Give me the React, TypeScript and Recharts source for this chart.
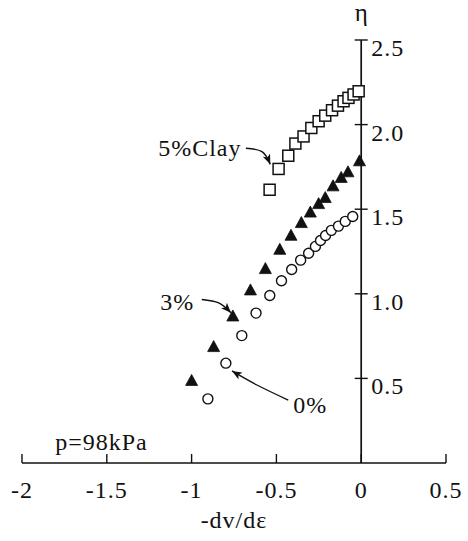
import React from 'react';
import { ScatterChart, Scatter, XAxis, YAxis, ReferenceLine, ReferenceDot } from 'recharts';

// Axis ticks
const xTicks = [-2, -1.5, -1, -0.5, 0, 0.5];
const yTicks = [0.5, 1.0, 1.5, 2.0, 2.5];
const yTickLabels = ['0.5', '1.0', '1.5', '2.0', '2.5'];

// 0% clay (open circles)
const clay0X = [-0.904, -0.798, -0.704, -0.62, -0.539, -0.47, -0.41, -0.357, -0.31, -0.27, -0.24, -0.21, -0.176, -0.134, -0.094, -0.05];
const clay0Y = [0.379, 0.59, 0.753, 0.886, 0.99, 1.077, 1.144, 1.199, 1.24, 1.28, 1.315, 1.345, 1.375, 1.4, 1.428, 1.457];

// 3% clay (filled triangles)
const clay3X = [-1.0, -0.87, -0.757, -0.653, -0.565, -0.48, -0.414, -0.353, -0.3, -0.251, -0.212, -0.166, -0.118, -0.078, -0.01];
const clay3Y = [0.485, 0.685, 0.866, 1.02, 1.146, 1.26, 1.343, 1.418, 1.48, 1.53, 1.566, 1.635, 1.685, 1.718, 1.783];

// 5% clay (open squares)
const clay5X = [-0.54, -0.487, -0.43, -0.388, -0.34, -0.294, -0.251, -0.212, -0.172, -0.137, -0.104, -0.075, -0.045, -0.015];
const clay5Y = [1.615, 1.738, 1.816, 1.888, 1.93, 1.98, 2.02, 2.053, 2.085, 2.112, 2.138, 2.158, 2.178, 2.197];

// Annotations
const annotationLabels = ['5%Clay', '3%', '0%', 'p=98kPa'];
const annotationX = [-1.197, -1.185, -0.401, -1.804];
const annotationY = [1.814, 0.904, 0.296, 0.077];

const arrow5X = [-0.68, -0.585, -0.536];
const arrow5Y = [1.86, 1.84, 1.765];
const arrow3X = [-0.94, -0.84, -0.768];
const arrow3Y = [0.966, 0.946, 0.888];
const arrow0X = [-0.43, -0.615, -0.762];
const arrow0Y = [0.372, 0.461, 0.544];

const zip = (xs: number[], ys: number[]) => xs.map((x, i) => ({ x, y: ys[i] }));

const data0 = zip(clay0X, clay0Y);
const data3 = zip(clay3X, clay3Y);
const data5 = zip(clay5X, clay5Y);
const arrows = [zip(arrow5X, arrow5Y), zip(arrow3X, arrow3Y), zip(arrow0X, arrow0Y)];

const FONT = '"Liberation Serif", "Times New Roman", serif';
const INK = '#111';

const CircleShape = (p: any) => (
  <circle cx={p.cx} cy={p.cy} r={5} fill="#fff" stroke={INK} strokeWidth={1.4} />
);
const TriangleShape = (p: any) => (
  <polygon
    points={`${p.cx},${p.cy - 6.5} ${p.cx - 6},${p.cy + 4.5} ${p.cx + 6},${p.cy + 4.5}`}
    fill={INK}
    stroke={INK}
    strokeWidth={0.8}
  />
);
const SquareShape = (p: any) => (
  <rect x={p.cx - 5.5} y={p.cy - 5.5} width={11} height={11} fill="#fff" stroke={INK} strokeWidth={1.5} />
);
const NoShape = () => <g />;

const XTick = (p: any) => {
  const { x, y, payload } = p;
  return (
    <g>
      <line x1={x} x2={x} y1={y} y2={y - 9} stroke={INK} strokeWidth={1.4} />
      <text x={x} y={y + 35} textAnchor="middle" fontFamily={FONT} fontSize={24} letterSpacing={1} fill={INK}>
        {String(payload.value)}
      </text>
    </g>
  );
};

export default function App() {
  return (
    <div style={{ position: 'absolute', left: 0, top: 0, width: 468, height: 541, background: '#fff' }}>
      <svg width={0} height={0} style={{ position: 'absolute' }}>
        <defs>
          <marker id="arrowHead" viewBox="0 0 10 8" refX="10" refY="4" markerWidth="10" markerHeight="8" markerUnits="userSpaceOnUse" orient="auto">
            <path d="M0,0 L10,4 L0,8 L2.5,4 Z" fill={INK} />
          </marker>
        </defs>
      </svg>
      <ScatterChart width={468} height={541} margin={{ top: 40, right: 22, bottom: 0, left: 22 }}>
        <XAxis
          type="number"
          dataKey="x"
          domain={[-2, 0.5]}
          ticks={xTicks}
          allowDataOverflow
          height={78}
          tickSize={0}
          tickMargin={0}
          tickLine={false}
          axisLine={{ stroke: INK, strokeWidth: 1.7 }}
          tick={<XTick />}
          interval={0}
          label={{ value: '-dv/dε', position: 'insideBottom', offset: 13, fontFamily: FONT, fontSize: 24, fill: INK, letterSpacing: 1 }}
        />
        <YAxis type="number" dataKey="y" domain={[0, 2.5]} hide width={0} allowDataOverflow />

        <ReferenceLine segment={[{ x: 0, y: 0 }, { x: 0, y: 2.5 }]} stroke={INK} strokeWidth={1.7} />
        {yTicks.map((v, i) => (
          <ReferenceDot
            key={`yt${i}`}
            x={0}
            y={v}
            shape={(p: any) => (
              <g>
                <line x1={p.cx - 6.5} x2={p.cx + 6.5} y1={p.cy} y2={p.cy} stroke={INK} strokeWidth={1.4} />
                <text x={p.cx + 10} y={p.cy + 16} fontFamily={FONT} fontSize={24} letterSpacing={1} fill={INK}>
                  {yTickLabels[i]}
                </text>
              </g>
            )}
          />
        ))}
        <ReferenceDot
          x={0}
          y={2.5}
          shape={(p: any) => (
            <text x={p.cx} y={p.cy - 19} textAnchor="middle" fontFamily={FONT} fontSize={25} fill={INK}>
              η
            </text>
          )}
        />

        <Scatter data={data0} shape={CircleShape} isAnimationActive={false} />
        <Scatter data={data3} shape={TriangleShape} isAnimationActive={false} />
        <Scatter data={data5} shape={SquareShape} isAnimationActive={false} />

        {arrows.map((a, i) => (
          <Scatter
            key={`ar${i}`}
            data={a}
            shape={NoShape}
            line={{ stroke: INK, strokeWidth: 1.4, markerEnd: 'url(#arrowHead)' }}
            lineJointType="natural"
            isAnimationActive={false}
          />
        ))}

        {annotationLabels.map((t, i) => (
          <ReferenceDot
            key={`an${i}`}
            x={annotationX[i]}
            y={annotationY[i]}
            shape={(p: any) => (
              <text x={p.cx} y={p.cy} fontFamily={FONT} fontSize={24} letterSpacing={1} fill={INK}>
                {t}
              </text>
            )}
          />
        ))}
      </ScatterChart>
    </div>
  );
}
